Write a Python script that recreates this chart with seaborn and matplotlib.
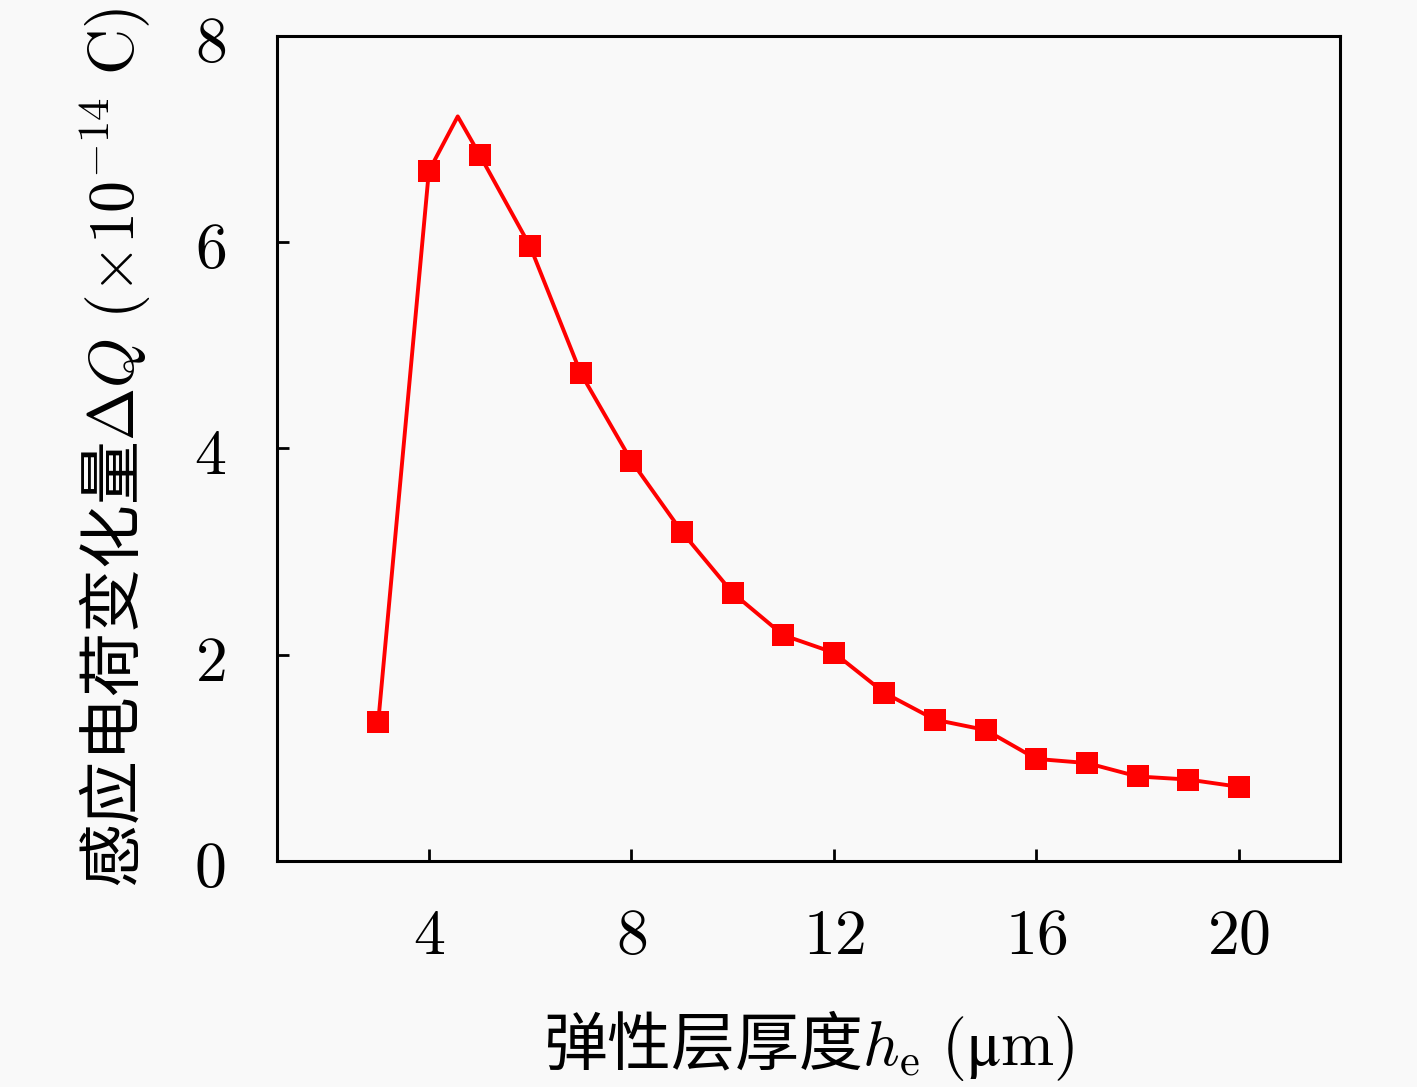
import matplotlib
matplotlib.use("Agg")
import matplotlib.pyplot as plt
import seaborn as sns
import pandas as pd

# marker data (integer thickness values)
thickness = [3, 4, 5, 6, 7, 8, 9, 10, 11, 12, 13, 14, 15, 16, 17, 18, 19, 20]
charge = [1.35, 6.69, 6.85, 5.96, 4.73, 3.88, 3.19, 2.60, 2.19, 2.02,
          1.63, 1.37, 1.27, 0.99, 0.95, 0.82, 0.79, 0.72]

# line data (includes unmarked peak)
line_thickness = [3, 4, 4.57, 5, 6, 7, 8, 9, 10, 11, 12, 13, 14, 15, 16, 17, 18, 19, 20]
line_charge = [1.35, 6.69, 7.22, 6.85, 5.96, 4.73, 3.88, 3.19, 2.60, 2.19, 2.02,
               1.63, 1.37, 1.27, 0.99, 0.95, 0.82, 0.79, 0.72]

x_ticks = [4, 8, 12, 16, 20]
y_ticks = [0, 2, 4, 6, 8]

sns.set_theme(style="ticks")
plt.rcParams['font.family'] = ['Noto Sans CJK SC', 'DejaVu Sans']
plt.rcParams['mathtext.fontset'] = 'cm'

bg = '#f9f9f9'
fig = plt.figure(figsize=(14.17, 10.87), dpi=100, facecolor=bg)
ax = fig.add_axes([0.1955, 0.2079, 0.7502, 0.759])
ax.set_facecolor(bg)

df_line = pd.DataFrame({'x': line_thickness, 'y': line_charge})
df_pts = pd.DataFrame({'x': thickness, 'y': charge})

sns.lineplot(data=df_line, x='x', y='y', ax=ax, color='#ff0000', lw=2.8,
             sort=False, estimator=None)
sns.scatterplot(data=df_pts, x='x', y='y', ax=ax, color='#ff0000', marker='s',
                s=230, linewidth=0, zorder=3)

ax.set_xlim(1, 22)
ax.set_ylim(0, 8)
ax.set_xticks(x_ticks)
ax.set_yticks(y_ticks)
ax.set_xticklabels([f"${v}$" for v in x_ticks])
ax.set_yticklabels([f"${v}$" for v in y_ticks])

for s in ax.spines.values():
    s.set_linewidth(2.2)
    s.set_color('black')
    s.set_visible(True)

ax.tick_params(axis='both', direction='in', length=8.5, width=2, colors='black',
               labelsize=46, top=False, right=False)
ax.tick_params(axis='x', pad=30)
ax.tick_params(axis='y', pad=37)

ax.set_xlabel(r"弹性层厚度$h_\mathrm{e}\ (\mathrm{μm})$", fontsize=46, labelpad=28, color='black')
ax.set_ylabel(r"感应电荷变化量$\Delta Q\ (\times 10^{-14}\ \mathrm{C})$", fontsize=46,
              labelpad=30, color='black')

fig.savefig("out.png", dpi=100, facecolor=bg)
